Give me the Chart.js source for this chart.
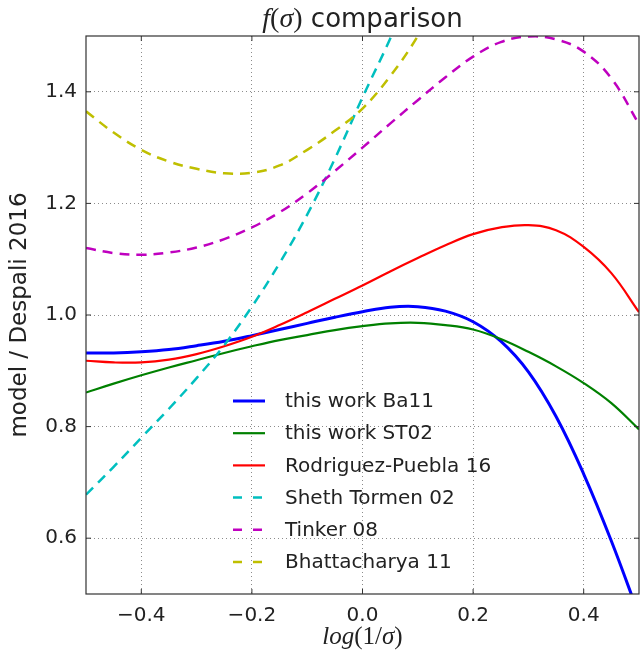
<!DOCTYPE html>
<html>
<head>
<meta charset="utf-8">
<script src="https://cdn.jsdelivr.net/npm/chart.js@4/dist/chart.umd.min.js"></script>
<style>
  html, body { margin: 0; padding: 0; background: #fff; }
  #wrap { width: 640px; height: 663px; position: relative; }
</style>
</head>
<body>
<div id="wrap"><canvas id="fsigma"></canvas></div>
<script>
// log(1/sigma) sample points
const xValues = [-0.5, -0.45, -0.4, -0.35, -0.3, -0.25, -0.2, -0.15, -0.1, -0.05,
                 0.0, 0.05, 0.1, 0.15, 0.2, 0.25, 0.3, 0.35, 0.4, 0.45, 0.5];

// ratios model / Despali 2016 (null = off the top of the plot)
const ba11 = [0.932, 0.932, 0.934, 0.938, 0.945, 0.953, 0.963, 0.974, 0.985, 0.996,
              1.006, 1.014, 1.015, 1.007, 0.988, 0.953, 0.898, 0.818, 0.715, 0.595, 0.462];
const st02 = [0.861, 0.877, 0.892, 0.906, 0.919, 0.932, 0.944, 0.955, 0.964, 0.973,
              0.980, 0.985, 0.986, 0.982, 0.974, 0.957, 0.934, 0.908, 0.878, 0.842, 0.795];
const rodriguezPuebla = [0.918, 0.915, 0.915, 0.920, 0.930, 0.944, 0.961, 0.982, 1.005, 1.029,
                         1.053, 1.078, 1.102, 1.125, 1.145, 1.157, 1.161, 1.152, 1.122, 1.075, 1.005];
const shethTormen = [0.678, 0.728, 0.780, 0.832, 0.887, 0.946, 1.015, 1.093, 1.180, 1.280,
                     1.390, 1.495, 1.610, null, null, null, null, null, null, null, null];
const tinker = [1.120, 1.111, 1.108, 1.112, 1.121, 1.136, 1.157, 1.184, 1.218, 1.258,
                1.300, 1.343, 1.385, 1.426, 1.463, 1.489, 1.499, 1.494, 1.472, 1.424, 1.342];
const bhattacharya = [1.365, 1.327, 1.296, 1.275, 1.262, 1.254, 1.255, 1.268, 1.296, 1.330,
                      1.370, 1.428, 1.500, 1.590, null, null, null, null, null, null, null];

const xTicks = [-0.4, -0.2, 0.0, 0.2, 0.4];
const yTicks = [0.6, 0.8, 1.0, 1.2, 1.4];

const seriesNames = ["this work Ba11", "this work ST02", "Rodriguez-Puebla 16",
                     "Sheth Tormen 02", "Tinker 08", "Bhattacharya 11"];
const seriesValues = [ba11, st02, rodriguezPuebla, shethTormen, tinker, bhattacharya];
const seriesColors = ["#0000ff", "#008000", "#ff0000", "#00bfbf", "#bf00bf", "#bfbf00"];
const seriesWidths = [3, 2.2, 2.2, 2.5, 2.5, 2.5];
const seriesDashed = [false, false, false, true, true, true];

const textColor = "#222";
const fmt = (v) => (v < 0 ? "\u2212" : "") + Math.abs(v).toFixed(1);

const datasets = seriesNames.map((name, i) => ({
    label: name,
    data: xValues
        .map((x, k) => ({ x, y: seriesValues[i][k] }))
        .filter((p) => p.y !== null),
    borderColor: seriesColors[i],
    backgroundColor: seriesColors[i],
    borderWidth: seriesWidths[i],
    borderDash: seriesDashed[i] ? [10, 7] : [],
    pointRadius: 0,
    fill: false,
    tension: 0.4,
    order: seriesNames.length - i,
}));

// draw one run of text made of pieces with different fonts, centred at cx
function drawMixed(ctx, pieces, cx, baseline) {
    let total = 0;
    pieces.forEach((p) => {
        ctx.font = p.font;
        p.w = ctx.measureText(p.text).width;
        total += p.w;
    });
    let x = cx - total / 2;
    ctx.textAlign = "left";
    ctx.textBaseline = "alphabetic";
    pieces.forEach((p) => {
        ctx.font = p.font;
        ctx.fillText(p.text, x, baseline);
        x += p.w;
    });
}

const frame = {
    id: "frame",
    afterDraw(chart) {
        const { ctx, chartArea: a, scales } = chart;
        ctx.save();

        // axes box
        ctx.strokeStyle = "#333";
        ctx.lineWidth = 1.2;
        ctx.strokeRect(a.left, a.top, a.right - a.left, a.bottom - a.top);

        // inward tick marks on all four sides
        ctx.lineWidth = 1;
        ctx.beginPath();
        xTicks.forEach((v) => {
            const px = scales.x.getPixelForValue(v);
            ctx.moveTo(px, a.bottom); ctx.lineTo(px, a.bottom - 5);
            ctx.moveTo(px, a.top); ctx.lineTo(px, a.top + 5);
        });
        yTicks.forEach((v) => {
            const py = scales.y.getPixelForValue(v);
            ctx.moveTo(a.left, py); ctx.lineTo(a.left + 5, py);
            ctx.moveTo(a.right, py); ctx.lineTo(a.right - 5, py);
        });
        ctx.stroke();

        ctx.fillStyle = textColor;
        const cx = (a.left + a.right) / 2;

        // title
        const it = 'italic 28px "Liberation Serif"';
        const up = '28px "Liberation Serif"';
        const sans = '26px "DejaVu Sans"';
        drawMixed(ctx, [
            { text: "f", font: it }, { text: "(", font: up },
            { text: "\u03c3", font: it }, { text: ")", font: up },
            { text: " comparison", font: sans },
        ], cx, 27);

        // x-axis label
        const it2 = 'italic 25px "Liberation Serif"';
        const up2 = '25px "Liberation Serif"';
        drawMixed(ctx, [
            { text: "log", font: it2 }, { text: "(1/", font: up2 },
            { text: "\u03c3", font: it2 }, { text: ")", font: up2 },
        ], cx, 644);

        // y-axis label
        ctx.save();
        ctx.translate(26, (a.top + a.bottom) / 2);
        ctx.rotate(-Math.PI / 2);
        ctx.font = '23px "DejaVu Sans"';
        ctx.textAlign = "center";
        ctx.textBaseline = "alphabetic";
        ctx.fillText("model / Despali 2016", 0, 0);
        ctx.restore();

        // legend, inside the axes without a frame
        ctx.font = '20px "DejaVu Sans"';
        ctx.textBaseline = "middle";
        ctx.textAlign = "left";
        chart.data.datasets.forEach((ds, i) => {
            const y = 401 + i * 32.2;
            ctx.save();
            ctx.strokeStyle = ds.borderColor;
            ctx.lineWidth = ds.borderWidth;
            ctx.setLineDash(ds.borderDash.length ? [9, 11] : []);
            ctx.beginPath();
            ctx.moveTo(233, y);
            ctx.lineTo(265, y);
            ctx.stroke();
            ctx.restore();
            ctx.fillText(ds.label, 285, y + 1);
        });

        ctx.restore();
    },
};

const gridStyle = {
    color: "rgba(0, 0, 0, 0.45)",
    lineWidth: 1,
    drawTicks: false,
};

new Chart(document.getElementById("fsigma"), {
    type: "line",
    data: { datasets },
    options: {
        responsive: true,
        maintainAspectRatio: false,
        animation: false,
        layout: { padding: { top: 36, right: 1, left: 0, bottom: 0 } },
        plugins: {
            legend: { display: false },
            title: { display: false },
            tooltip: { enabled: false },
        },
        scales: {
            x: {
                type: "linear",
                min: -0.5,
                max: 0.5,
                afterBuildTicks: (scale) => {
                    scale.ticks = xTicks.map((v) => ({ value: v }));
                },
                afterFit: (scale) => { scale.height = 69; },
                grid: gridStyle,
                border: { display: false, dash: [1, 3] },
                ticks: {
                    color: textColor,
                    padding: 10,
                    maxRotation: 0,
                    font: { size: 20, family: "DejaVu Sans" },
                    callback: (v) => fmt(v),
                },
            },
            y: {
                type: "linear",
                min: 0.5,
                max: 1.5,
                afterBuildTicks: (scale) => {
                    scale.ticks = yTicks.map((v) => ({ value: v }));
                },
                afterFit: (scale) => { scale.width = 86; },
                grid: gridStyle,
                border: { display: false, dash: [1, 3] },
                ticks: {
                    color: textColor,
                    padding: 9,
                    font: { size: 20, family: "DejaVu Sans" },
                    callback: (v) => fmt(v),
                },
            },
        },
    },
    plugins: [frame],
});
</script>
</body>
</html>
